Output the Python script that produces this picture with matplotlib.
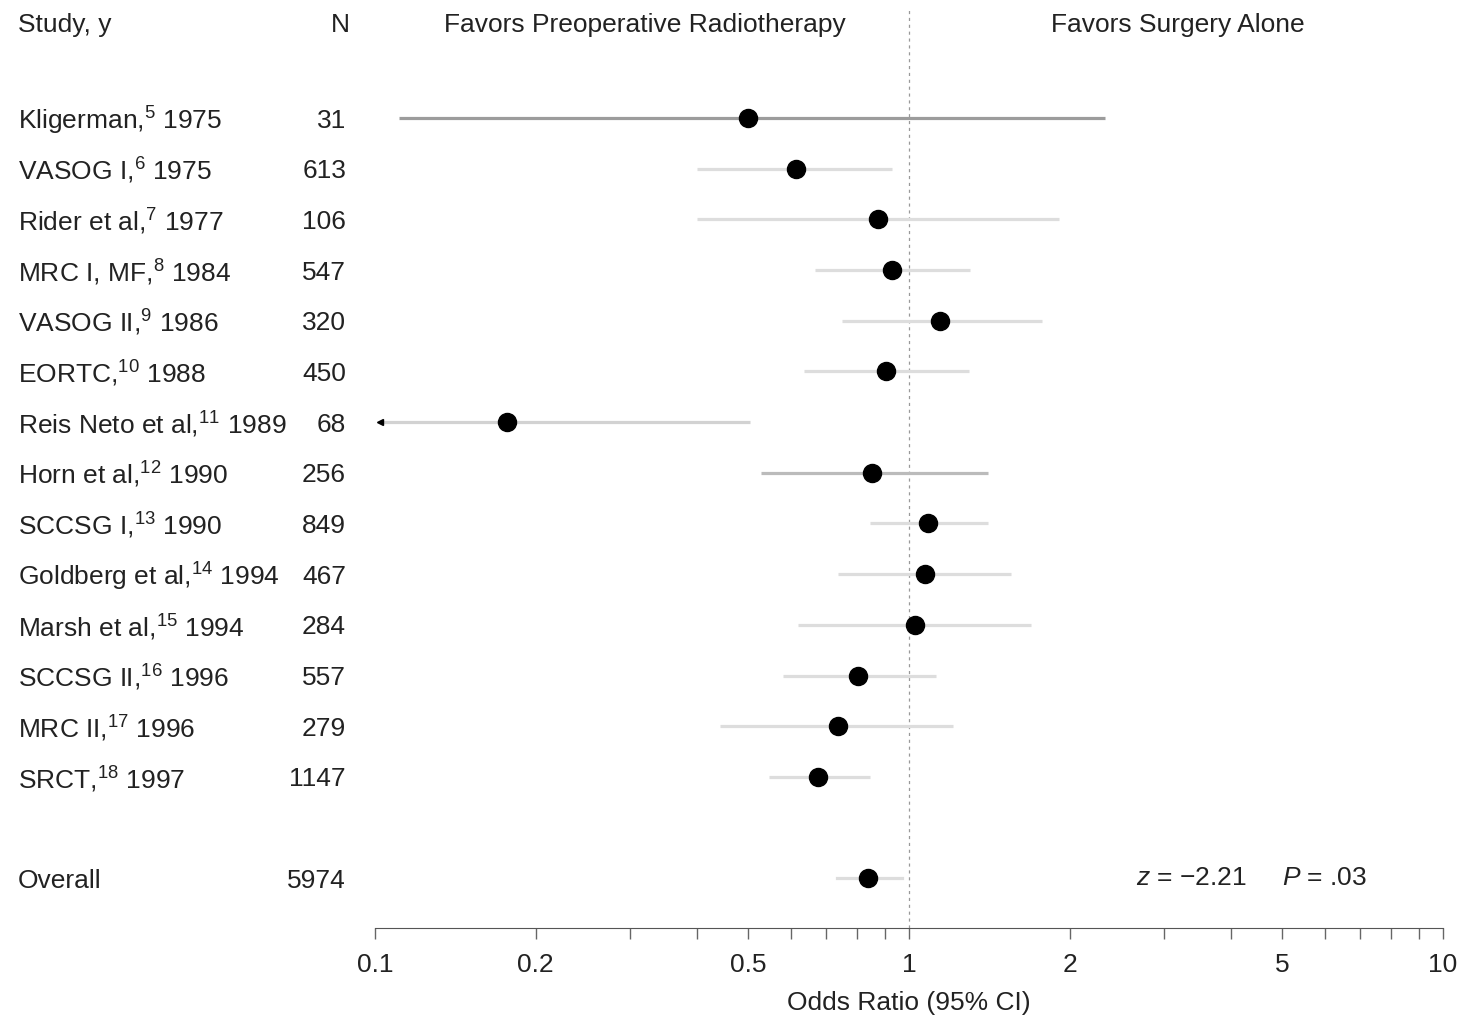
import numpy as np
import matplotlib
matplotlib.use("Agg")
import matplotlib.pyplot as plt
from matplotlib.transforms import blended_transform_factory

plt.rcParams['font.family'] = ['Liberation Sans', 'DejaVu Sans']
plt.rcParams['mathtext.fontset'] = 'custom'
plt.rcParams['mathtext.rm'] = 'Liberation Sans'
plt.rcParams['mathtext.it'] = 'Liberation Sans:italic'
plt.rcParams['mathtext.default'] = 'regular'

# podaci
studije = ["Kligerman,$^{5}$ 1975", "VASOG I,$^{6}$ 1975", "Rider et al,$^{7}$ 1977",
           "MRC I, MF,$^{8}$ 1984", "VASOG II,$^{9}$ 1986", "EORTC,$^{10}$ 1988",
           "Reis Neto et al,$^{11}$ 1989", "Horn et al,$^{12}$ 1990", "SCCSG I,$^{13}$ 1990",
           "Goldberg et al,$^{14}$ 1994", "Marsh et al,$^{15}$ 1994", "SCCSG II,$^{16}$ 1996",
           "MRC II,$^{17}$ 1996", "SRCT,$^{18}$ 1997"]
n = [31, 613, 106, 547, 320, 450, 68, 256, 849, 467, 284, 557, 279, 1147]
odds = [0.50, 0.614, 0.875, 0.93, 1.143, 0.905, 0.177, 0.852, 1.085, 1.071, 1.026, 0.803, 0.736, 0.675]
ci_lo = [0.111, 0.401, 0.40, 0.667, 0.749, 0.636, 0.09, 0.528, 0.845, 0.736, 0.620, 0.581, 0.443, 0.547]
ci_hi = [2.33, 0.93, 1.91, 1.30, 1.774, 1.295, 0.504, 1.406, 1.406, 1.553, 1.692, 1.124, 1.209, 0.845]
ci_boja = ["#9c9c9c", "#dddddd", "#dddddd", "#dddddd", "#dddddd", "#dddddd", "#d2d2d2",
           "#bbbbbb", "#dddddd", "#dddddd", "#dddddd", "#dddddd", "#dddddd", "#dddddd"]

overall_or = 0.838
overall_lo = 0.733
overall_hi = 0.970
overall_n = 5974

fig = plt.figure(figsize=(14.64, 10.28), dpi=100)
ax = fig.add_axes([375/1464, 100/1028, 1068/1464, 918/1028])
ax.set_xscale("log")
ax.set_xlim(0.1, 10)
ax.set_ylim(15.98, -2.13)

xmin = ax.get_xlim()[0]
for i in range(len(studije)):
    lo = ci_lo[i]
    if lo < xmin:
        lo = xmin * 1.02
        ax.plot(lo, i, marker='<', color='black', ms=5, zorder=3)
    ax.plot([lo, ci_hi[i]], [i, i], color=ci_boja[i], lw=2.3, solid_capstyle='butt', zorder=1)
    ax.plot(odds[i], i, 'o', color='black', ms=13, zorder=4)

y_ov = len(studije) + 1
ax.plot([overall_lo, overall_hi], [y_ov, y_ov], color="#dddddd", lw=2.3, zorder=1)
ax.plot(overall_or, y_ov, 'o', color='black', ms=13, zorder=4)

ax.axvline(1, color="#999999", lw=0.9, ls=(0, (2.5, 3)), zorder=0)

for s in ['top', 'right', 'left']:
    ax.spines[s].set_visible(False)
ax.spines['bottom'].set_color("#555555")
ax.set_yticks([])
ax.set_xticks([0.1, 0.2, 0.5, 1, 2, 5, 10])
ax.set_xticklabels(["0.1", "0.2", "0.5", "1", "2", "5", "10"])
ax.tick_params(axis='x', which='both', direction='out', length=8, width=1,
               color="#666666", labelsize=19, pad=10, labelcolor="#222222")
ax.set_xlabel("Odds Ratio (95% CI)", fontsize=19, labelpad=10, color="#222222")

# tekst lijevo
trans = blended_transform_factory(fig.transFigure, ax.transData)
fs = 19
ax.text(18/1464, -1.83, "Study, y", transform=trans, fontsize=fs, va='center', color="#222222")
ax.text(350/1464, -1.83, "N", transform=trans, fontsize=fs, va='center', ha='right', color="#222222")
for i in range(len(studije)):
    ax.text(18/1464, i + 0.05, studije[i], transform=trans, fontsize=fs, va='center', color="#222222")
    ax.text(346/1464, i + 0.05, str(n[i]), transform=trans, fontsize=fs, va='center', ha='right', color="#222222")
ax.text(18/1464, y_ov + 0.05, "Overall", transform=trans, fontsize=fs, va='center', color="#222222")
ax.text(346/1464, y_ov + 0.05, str(overall_n), transform=trans, fontsize=fs, va='center', ha='right', color="#222222")

tr2 = blended_transform_factory(ax.transAxes, ax.transData)
ax.text(0.253, -1.83, "Favors Preoperative Radiotherapy", transform=tr2, fontsize=fs,
        ha='center', va='center', color="#222222")
ax.text(0.752, -1.83, "Favors Surgery Alone", transform=tr2, fontsize=fs,
        ha='center', va='center', color="#222222")
ax.text(0.713, y_ov, r"$\mathit{z}$ = −2.21", transform=tr2, fontsize=fs, va='center', color="#222222")
ax.text(0.849, y_ov, r"$\mathit{P}$ = .03", transform=tr2, fontsize=fs, va='center', color="#222222")

plt.savefig("out.png", dpi=100)
